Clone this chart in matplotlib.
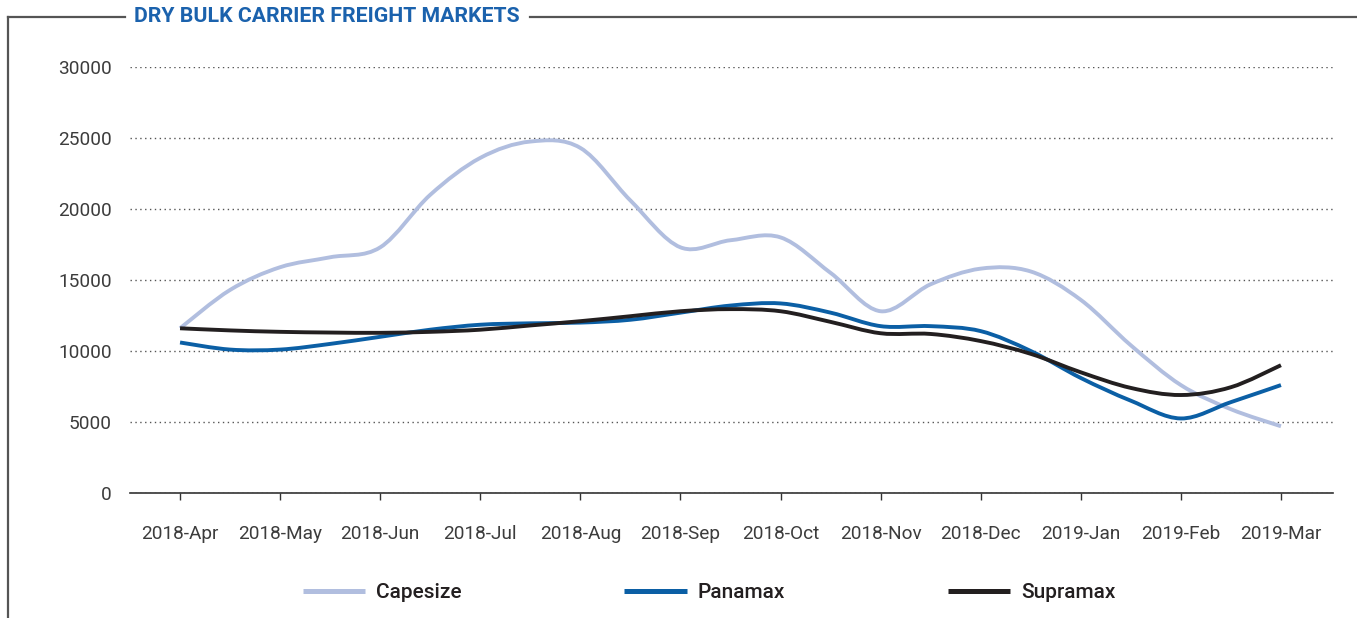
import matplotlib
matplotlib.use("Agg")
import numpy as np
import matplotlib.pyplot as plt
from matplotlib.path import Path
from matplotlib.patches import PathPatch
from matplotlib.lines import Line2D

months = ["2018-Apr", "2018-May", "2018-Jun", "2018-Jul", "2018-Aug", "2018-Sep",
          "2018-Oct", "2018-Nov", "2018-Dec", "2019-Jan", "2019-Feb", "2019-Mar"]

# values read at half-month steps (Apr, mid-Apr, May, ...)
capesize = [11600, 14300, 15900, 16600, 17300, 21000, 23600, 24750, 24300, 20600,
            17300, 17800, 18000, 15500, 12800, 14700, 15800, 15600, 13600, 10400,
            7600, 5900, 4700]
panamax = [10600, 10100, 10100, 10500, 11000, 11500, 11850, 11950, 12000, 12200,
           12700, 13200, 13350, 12700, 11750, 11750, 11400, 10000, 8100, 6500,
           5250, 6400, 7600]
supramax = [11600, 11450, 11350, 11300, 11280, 11350, 11500, 11800, 12100, 12450,
            12800, 12950, 12800, 12050, 11250, 11200, 10700, 9800, 8500, 7400,
            6900, 7450, 9000]

series = [("Capesize", capesize, "#b1bedf"),
          ("Panamax", panamax, "#0b5fa5"),
          ("Supramax", supramax, "#231f20")]

title = "DRY BULK CARRIER FREIGHT MARKETS"


def smooth_path(x, y):
    # catmull-rom through the points, written as cubic bezier segments
    pts = np.column_stack([x, y]).astype(float)
    ext = np.vstack([pts[0], pts, pts[-1]])
    verts = [pts[0]]
    codes = [Path.MOVETO]
    for i in range(len(pts) - 1):
        p0, p1, p2, p3 = ext[i], ext[i + 1], ext[i + 2], ext[i + 3]
        verts += [p1 + (p2 - p0) / 6, p2 - (p3 - p1) / 6, p2]
        codes += [Path.CURVE4] * 3
    return Path(verts, codes)


plt.rcParams['font.family'] = ['Roboto', 'DejaVu Sans']

fig = plt.figure(figsize=(13.57, 6.18), dpi=100)
ax = fig.add_axes([130 / 1357, 1 - 493 / 618, (1333 - 130) / 1357, (493 - 67) / 618])

xs = np.arange(len(capesize)) / 2
handles = []
for name, vals, col in series:
    patch = PathPatch(smooth_path(xs, vals), facecolor="none", edgecolor=col,
                      lw=2.8, capstyle="butt", joinstyle="round", zorder=3)
    ax.add_patch(patch)
    handles.append(Line2D([], [], color=col, lw=3.6, solid_capstyle="butt"))

ax.set_xlim(-0.5, 11.52)
ax.set_ylim(0, 30000)
ax.set_xticks(range(len(months)))
ax.set_xticklabels(months)
ax.set_yticks(range(0, 30001, 5000))

for s in ["top", "right", "left"]:
    ax.spines[s].set_visible(False)
ax.spines["bottom"].set_color("#333333")
ax.spines["bottom"].set_linewidth(1.2)
ax.tick_params(axis="x", length=5, width=1, color="#333333", pad=18,
               labelsize=13.7, labelcolor="#3c3c3c")
ax.tick_params(axis="y", length=0, pad=13, labelsize=13.7, labelcolor="#3c3c3c")
ax.yaxis.grid(True, linestyle=(0, (1, 2.5)), color="#555555", lw=1)
ax.set_axisbelow(True)

# frame with title set into the top edge
fig.add_artist(Line2D([8 / 1357, 8 / 1357], [0, 1 - 17 / 618], color="#555555", lw=1.6))
fig.add_artist(Line2D([8 / 1357, 125 / 1357], [1 - 17 / 618] * 2, color="#555555", lw=1.6))
fig.add_artist(Line2D([530 / 1357, 1], [1 - 17 / 618] * 2, color="#555555", lw=1.6))
fig.text(134 / 1357, 1 - 17 / 618, title, ha="left", va="center", fontsize=15.3,
         fontweight="bold", color="#1b62ad")

fig.legend(handles, [s[0] for s in series], loc="center", bbox_to_anchor=(0.5225, 1 - 593 / 618),
           ncol=3, frameon=False, handlelength=3.0, columnspacing=7.8, handletextpad=0.53,
           prop={"size": 15, "weight": "medium"}, labelcolor="#231f20")

fig.savefig("out.png", dpi=100)
